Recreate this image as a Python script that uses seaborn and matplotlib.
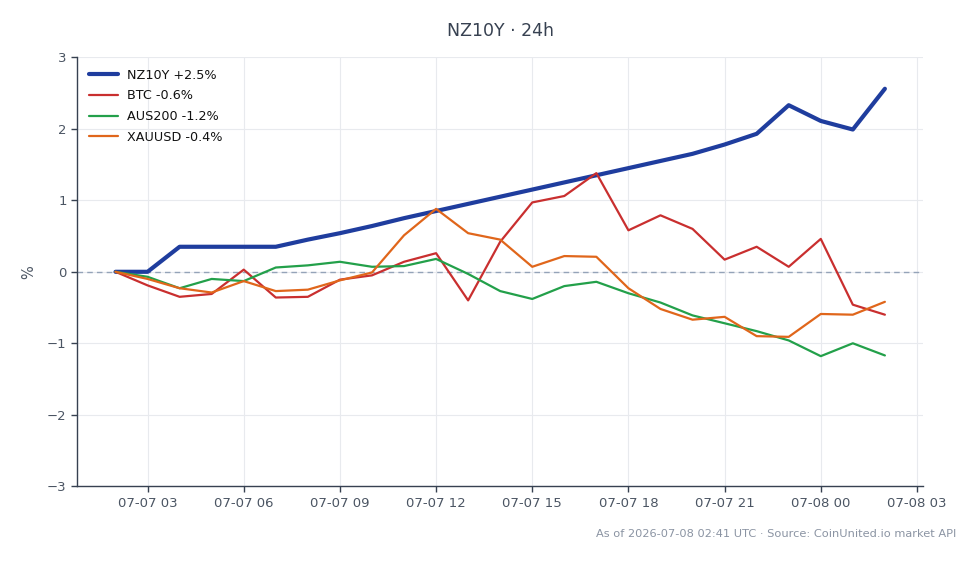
import matplotlib
matplotlib.use("Agg")
import matplotlib.pyplot as plt
import matplotlib.dates as mdates
import seaborn as sns
import pandas as pd
import numpy as np

times = pd.date_range("2026-07-07 02:00", "2026-07-08 02:00", freq="h")

nz10y = [0.00, 0.00, 0.35, 0.35, 0.35, 0.35, 0.45, 0.54, 0.64, 0.75, 0.85, 0.95, 1.05,
         1.15, 1.25, 1.35, 1.45, 1.55, 1.65, 1.78, 1.93, 2.33, 2.11, 1.99, 2.56]
btc = [0.00, -0.19, -0.35, -0.31, 0.03, -0.36, -0.35, -0.11, -0.05, 0.14, 0.26, -0.40, 0.42,
       0.97, 1.06, 1.38, 0.58, 0.79, 0.60, 0.17, 0.35, 0.07, 0.46, -0.46, -0.60]
aus200 = [0.00, -0.07, -0.23, -0.10, -0.13, 0.06, 0.09, 0.14, 0.07, 0.08, 0.18, -0.03, -0.27,
          -0.38, -0.20, -0.14, -0.30, -0.43, -0.61, -0.72, -0.83, -0.96, -1.18, -1.00, -1.17]
xauusd = [0.00, -0.10, -0.23, -0.29, -0.13, -0.27, -0.25, -0.12, -0.01, 0.51, 0.88, 0.54, 0.45,
          0.07, 0.22, 0.21, -0.23, -0.52, -0.67, -0.63, -0.90, -0.91, -0.59, -0.60, -0.42]

series_names = ["NZ10Y +2.5%", "BTC -0.6%", "AUS200 -1.2%", "XAUUSD -0.4%"]
series_values = [nz10y, btc, aus200, xauusd]
colors = ["#1f3d9e", "#c92f2f", "#23a04a", "#e0661b"]
widths = [3.0, 1.6, 1.6, 1.6]

sns.set_theme(style="whitegrid")
plt.rcParams["font.family"] = ["DejaVu Sans"]

fig = plt.figure(figsize=(9.8, 5.64), dpi=100)
ax = fig.add_axes([0.0786, 0.1378, 0.8636, 0.7606])

for name, vals, c, lw in zip(series_names, series_values, colors, widths):
    df = pd.DataFrame({"time": times, "value": vals})
    sns.lineplot(data=df, x="time", y="value", ax=ax, color=c, linewidth=lw, label=name)

ax.axhline(0, color="#94a3b8", linestyle=(0, (4, 3)), linewidth=1.0, zorder=1)

ax.set_ylim(-3, 3)
ax.set_yticks([-3, -2, -1, 0, 1, 2, 3])
ax.xaxis.set_major_locator(mdates.HourLocator(byhour=range(0, 24, 3)))
ax.xaxis.set_major_formatter(mdates.DateFormatter("%m-%d %H"))

ax.grid(True, color="#e8eaee", linewidth=0.8)
ax.set_facecolor("white")
for s in ["top", "right"]:
    ax.spines[s].set_visible(False)
for s in ["left", "bottom"]:
    ax.spines[s].set_color("#374151")
    ax.spines[s].set_linewidth(1.0)
ax.tick_params(axis="both", colors="#4b5563", labelsize=9.5, length=4, width=1,
               direction="out", bottom=True, left=True)
ax.tick_params(axis="both", color="#374151")

ax.set_xlabel("")
ax.set_ylabel("%", color="#4b5563", fontsize=10.5, labelpad=8)
ax.set_title("NZ10Y · 24h", color="#374151", fontsize=12.5, pad=15)

leg = ax.legend(loc="upper left", frameon=False, fontsize=9.2, handlelength=2.3,
                borderaxespad=0.5, labelspacing=0.6, handletextpad=0.7)
for t in leg.get_texts():
    t.set_color("#111111")

fig.text(0.976, 0.053, "As of 2026-07-08 02:41 UTC · Source: CoinUnited.io market API",
         ha="right", va="center", fontsize=8.2, color="#8b94a3")

fig.savefig("out.png", dpi=100, facecolor="white")
